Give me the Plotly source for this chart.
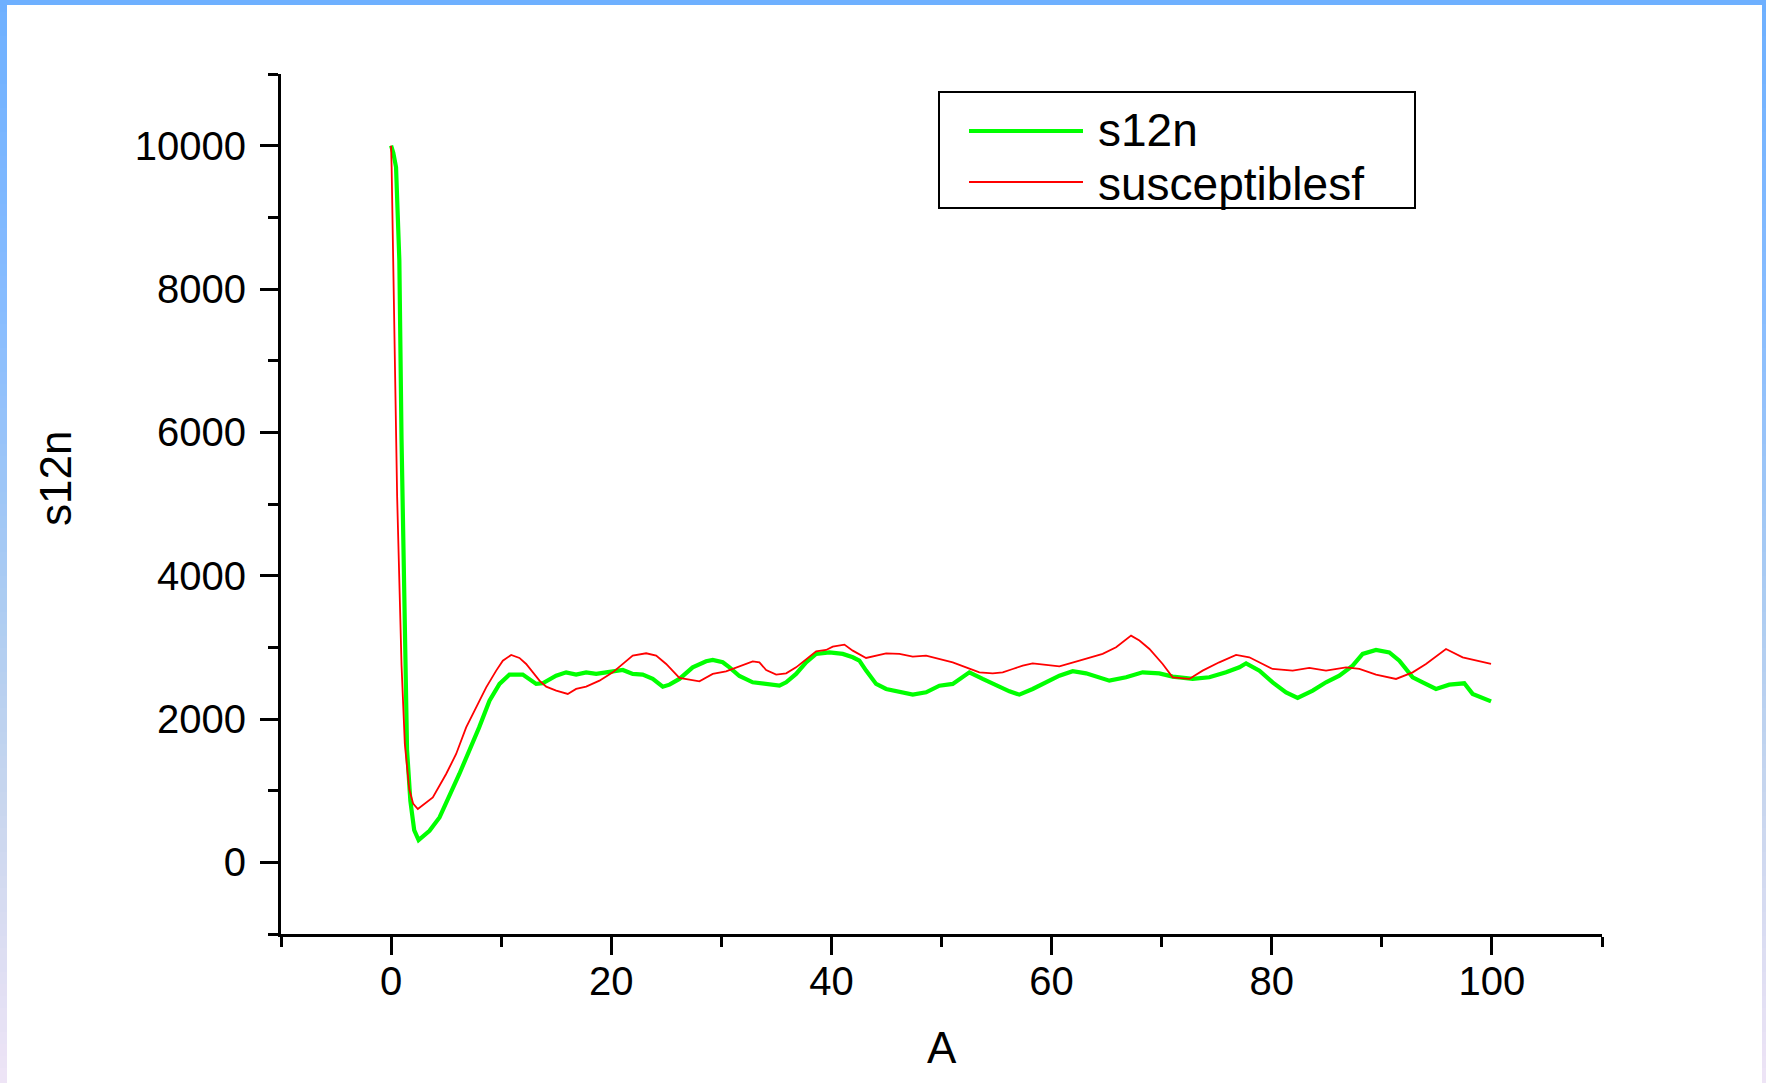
import plotly.graph_objects as go

# s12n series
a_s12n = [0, 0.2, 0.45, 0.75, 0.95, 1.25, 1.45, 1.75, 2.1, 2.5,
          3.49, 4.4, 6.2, 8.0, 8.94, 9.85, 10.75, 11.96, 12.57, 13.18,
          13.78, 14.39, 14.99, 15.9, 16.81, 17.72, 18.63, 19.54, 21.05, 21.95,
          22.86, 23.77, 24.68, 25.29, 26.19, 27.4, 28.62, 29.22, 30.13, 30.74,
          31.64, 32.85, 33.76, 35.28, 35.89, 36.79, 37.7, 38.61, 39.82, 41.03,
          41.94, 42.54, 43.15, 44.06, 44.97, 46.18, 47.39, 48.6, 49.81, 51.02,
          52.53, 53.74, 54.96, 56.17, 57.07, 58.28, 60.71, 61.92, 63.13, 65.25,
          66.77, 68.27, 69.79, 71.0, 72.82, 74.33, 75.85, 77.06, 77.67, 78.88,
          80.08, 81.3, 82.35, 83.72, 84.93, 86.14, 87.35, 88.26, 89.47, 90.68,
          91.59, 92.8, 93.71, 94.92, 96.13, 97.49, 98.25, 99.16, 99.92]
s12n = [10000, 9900, 9700, 8400, 5900, 3200, 1570, 860, 450, 311,
        441, 627, 1233, 1883, 2256, 2489, 2619, 2619, 2559, 2489,
        2498, 2545, 2605, 2651, 2619, 2651, 2629, 2651, 2684, 2629,
        2619, 2559, 2451, 2479, 2559, 2721, 2805, 2824, 2791, 2721,
        2600, 2512, 2498, 2465, 2512, 2629, 2791, 2908, 2930, 2908,
        2861, 2814, 2675, 2489, 2419, 2386, 2340, 2372, 2465, 2489,
        2651, 2559, 2465, 2386, 2340, 2419, 2605, 2666, 2637, 2535,
        2582, 2651, 2637, 2591, 2559, 2582, 2651, 2721, 2777, 2675,
        2512, 2372, 2294, 2396, 2512, 2605, 2745, 2908, 2964, 2930,
        2814, 2582, 2512, 2419, 2479, 2498, 2350, 2294, 2246]

# susceptiblesf series
a_susc = [0, 0.05, 0.25, 0.55, 0.95, 1.25, 1.65, 2.0, 2.43, 3.79,
          5.0, 5.91, 6.82, 7.73, 8.64, 9.55, 10.15, 10.91, 11.66, 12.27,
          12.87, 13.48, 14.09, 15.0, 16.05, 16.81, 17.72, 18.93, 20.14, 21.04,
          21.95, 23.17, 24.08, 24.99, 26.19, 28.01, 29.22, 30.43, 31.34, 32.25,
          32.85, 33.46, 34.07, 34.98, 35.89, 36.79, 37.7, 38.61, 39.52, 40.12,
          41.18, 41.94, 43.15, 44.06, 44.97, 46.18, 47.39, 48.6, 49.81, 51.02,
          52.23, 53.44, 54.65, 55.56, 56.47, 57.38, 58.28, 59.5, 60.71, 62.53,
          64.64, 65.86, 67.22, 67.98, 68.89, 70.09, 71.0, 72.51, 73.72, 75.23,
          76.76, 77.96, 78.88, 80.08, 81.9, 83.41, 84.93, 86.75, 87.96, 89.47,
          91.29, 92.8, 94.01, 95.83, 97.34, 98.56, 99.92]
susceptiblesf = [10000, 9700, 7860, 5100, 2750, 1650, 1020, 820, 744, 906,
                 1233, 1512, 1883, 2163, 2442, 2675, 2814, 2894, 2852, 2768,
                 2651, 2535, 2451, 2396, 2350, 2419, 2451, 2535, 2651, 2768,
                 2884, 2917, 2884, 2768, 2573, 2526, 2629, 2666, 2721, 2777,
                 2805, 2791, 2684, 2619, 2637, 2721, 2838, 2944, 2963, 3010,
                 3038, 2954, 2852, 2884, 2917, 2908, 2870, 2884, 2838, 2791,
                 2721, 2651, 2637, 2651, 2698, 2745, 2777, 2758, 2735, 2814,
                 2908, 3000, 3163, 3094, 2977, 2768, 2582, 2559, 2675, 2791,
                 2894, 2861, 2791, 2698, 2675, 2712, 2675, 2721, 2698, 2619,
                 2559, 2651, 2768, 2977, 2861, 2814, 2768]

x_ticks = [0, 20, 40, 60, 80, 100]
y_ticks = [0, 2000, 4000, 6000, 8000, 10000]
y_tick_text = ["0", "2000", "4000", "6000", "8000", "10000"]
series_names = ["s12n", "susceptiblesf"]
series_colors = ["#00ff00", "#ff0000"]
series_widths = [4.2, 1.8]

W, H = 1766, 1083
L, R, T, B = 281, 1602, 74, 934  # plot area in page pixels
FONT = "Liberation Sans, Arial, sans-serif"


def px_x(p):
    return (p - L) / (R - L)


def px_y(p):
    return (B - p) / (B - T)


fig = go.Figure()
for xs, ys, name, col, w in zip([a_s12n, a_susc], [s12n, susceptiblesf],
                                series_names, series_colors, series_widths):
    fig.add_trace(go.Scatter(x=xs, y=ys, mode="lines", name=name, showlegend=False,
                             line=dict(color=col, width=w)))

axis_common = dict(showline=True, linecolor="black", linewidth=3, ticks="outside",
                   ticklen=18, tickwidth=3, tickcolor="black", showgrid=False, zeroline=False,
                   tickfont=dict(family=FONT, size=40, color="black"))

fig.update_xaxes(range=[-10.0001, 110.0001], tickvals=x_ticks, ticklabelstandoff=-8,
                 minor=dict(tickvals=[-10, 10, 30, 50, 70, 90, 110], ticks="outside",
                            ticklen=10, tickwidth=3, tickcolor="black"),
                 **axis_common)
fig.update_yaxes(range=[-1000.01, 11000.01], tickvals=y_ticks, ticktext=y_tick_text,
                 ticklabelstandoff=6,
                 minor=dict(tickvals=[-1000, 1000, 3000, 5000, 7000, 9000, 11000], ticks="outside",
                            ticklen=10, tickwidth=3, tickcolor="black"),
                 **axis_common)

# window frame: solid top bar and vertical gradient bars on the sides
shapes = [dict(type="rect", xref="paper", yref="paper", x0=px_x(0), x1=px_x(W),
               y0=px_y(5), y1=px_y(0), fillcolor="rgb(110,176,255)", line_width=0, layer="above")]
stops = [(0, (110, 176, 255)), (300, (135, 188, 255)), (600, (172, 204, 242)),
         (800, (200, 214, 238)), (1083, (238, 228, 246))]


def frame_color(p):
    for (p0, c0), (p1, c1) in zip(stops[:-1], stops[1:]):
        if p0 <= p <= p1:
            t = (p - p0) / (p1 - p0)
            return "rgb(%d,%d,%d)" % tuple(round(a + (b - a) * t) for a, b in zip(c0, c1))
    return "rgb(%d,%d,%d)" % stops[-1][1]


step = 12
for top in range(0, H, step):
    col = frame_color(top + step / 2)
    for x0, x1 in ((0, 7), (W - 4, W)):
        shapes.append(dict(type="rect", xref="paper", yref="paper", x0=px_x(x0), x1=px_x(x1),
                           y0=px_y(min(top + step + 1, H)), y1=px_y(top), fillcolor=col,
                           line_width=0, layer="above"))

# legend box with a long line sample per series
shapes.append(dict(type="rect", xref="paper", yref="paper", x0=px_x(939), x1=px_x(1415),
                   y0=px_y(208), y1=px_y(92), fillcolor="white",
                   line=dict(color="black", width=2), layer="above"))
line_rows = [131, 182]
text_rows = [130, 184]
annotations = []
for lrow, trow, name, col, w in zip(line_rows, text_rows, series_names, series_colors,
                                    series_widths):
    shapes.append(dict(type="line", xref="paper", yref="paper", x0=px_x(969), x1=px_x(1083),
                       y0=px_y(lrow), y1=px_y(lrow), line=dict(color=col, width=w),
                       layer="above"))
    annotations.append(dict(text=name, xref="paper", yref="paper", x=px_x(1097), y=px_y(trow),
                            xanchor="left", yanchor="middle", showarrow=False, borderpad=0,
                            font=dict(family=FONT, size=46, color="black")))

annotations += [
    dict(text="A", xref="paper", yref="paper", x=0.5, y=px_y(1047), xanchor="center",
         yanchor="middle", showarrow=False, font=dict(family=FONT, size=44, color="black")),
    dict(text="s12n", xref="paper", yref="paper", x=px_x(56), y=px_y(479), xanchor="center",
         yanchor="middle", textangle=-90, showarrow=False,
         font=dict(family=FONT, size=44, color="black")),
]

fig.update_layout(
    width=W, height=H,
    margin=dict(l=L, r=W - R, t=T, b=H - B, pad=0),
    paper_bgcolor="white", plot_bgcolor="white",
    shapes=shapes,
    annotations=annotations,
)

fig.write_html("out.html")
